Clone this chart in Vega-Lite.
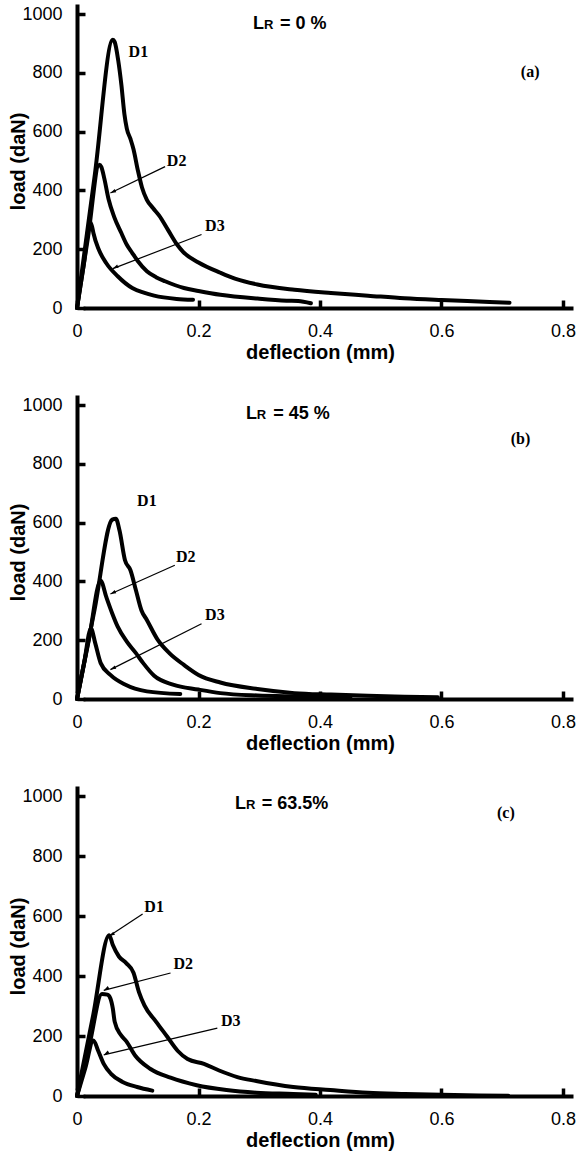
{
 "$schema": "https://vega.github.io/schema/vega-lite/v6.json",
 "background": "white",
 "padding": {"left": 8, "top": 5, "right": 5, "bottom": 5},
 "spacing": 97,
 "bounds": "flush",
 "config": {
  "view": {"stroke": null},
  "axis": {"domain": false, "grid": true, "gridColor": "black", "gridWidth": 4, "gridCap": "square", "ticks": true, "tickColor": "black", "tickWidth": 3.5, "tickSize": 8, "offset": -8,
   "labelFont": "Liberation Sans", "labelFontSize": 18, "labelColor": "black", "labelFlush": false, "labelOverlap": false, "labelBound": false,
   "titleFont": "Liberation Sans", "titleFontSize": 20, "titleFontWeight": "bold", "titleColor": "black"},
  "axisX": {"labelPadding": 14, "titlePadding": 2},
  "axisY": {"labelPadding": 15, "titleX": -67, "titleBaseline": "middle"}
 },
 "datasets": {
  "curves": [
   {"panel":"a","curve":"D1","x":0,"y":0},{"panel":"a","curve":"D1","x":0.0295,"y":456},{"panel":"a","curve":"D1","x":0.059,"y":912},{"panel":"a","curve":"D1","x":0.062,"y":905},{"panel":"a","curve":"D1","x":0.068,"y":840},{"panel":"a","curve":"D1","x":0.073,"y":760},{"panel":"a","curve":"D1","x":0.078,"y":660},{"panel":"a","curve":"D1","x":0.082,"y":610},{"panel":"a","curve":"D1","x":0.088,"y":575},{"panel":"a","curve":"D1","x":0.093,"y":540},{"panel":"a","curve":"D1","x":0.1,"y":470},{"panel":"a","curve":"D1","x":0.107,"y":410},{"panel":"a","curve":"D1","x":0.115,"y":368},{"panel":"a","curve":"D1","x":0.125,"y":340},{"panel":"a","curve":"D1","x":0.135,"y":315},{"panel":"a","curve":"D1","x":0.15,"y":265},{"panel":"a","curve":"D1","x":0.165,"y":215},{"panel":"a","curve":"D1","x":0.175,"y":190},{"panel":"a","curve":"D1","x":0.2,"y":155},{"panel":"a","curve":"D1","x":0.236,"y":120},{"panel":"a","curve":"D1","x":0.26,"y":100},{"panel":"a","curve":"D1","x":0.297,"y":80},{"panel":"a","curve":"D1","x":0.358,"y":62},{"panel":"a","curve":"D1","x":0.418,"y":51},{"panel":"a","curve":"D1","x":0.479,"y":42},{"panel":"a","curve":"D1","x":0.539,"y":33},{"panel":"a","curve":"D1","x":0.6,"y":27},{"panel":"a","curve":"D1","x":0.661,"y":22},{"panel":"a","curve":"D1","x":0.712,"y":18},
   {"panel":"a","curve":"D2","x":0,"y":0},{"panel":"a","curve":"D2","x":0.018,"y":239},{"panel":"a","curve":"D2","x":0.0367,"y":487},{"panel":"a","curve":"D2","x":0.04,"y":480},{"panel":"a","curve":"D2","x":0.045,"y":440},{"panel":"a","curve":"D2","x":0.052,"y":370},{"panel":"a","curve":"D2","x":0.061,"y":311},{"panel":"a","curve":"D2","x":0.073,"y":255},{"panel":"a","curve":"D2","x":0.082,"y":215},{"panel":"a","curve":"D2","x":0.091,"y":187},{"panel":"a","curve":"D2","x":0.1,"y":160},{"panel":"a","curve":"D2","x":0.115,"y":125},{"panel":"a","curve":"D2","x":0.13,"y":105},{"panel":"a","curve":"D2","x":0.145,"y":91},{"panel":"a","curve":"D2","x":0.176,"y":68},{"panel":"a","curve":"D2","x":0.2,"y":58},{"panel":"a","curve":"D2","x":0.236,"y":45},{"panel":"a","curve":"D2","x":0.297,"y":32},{"panel":"a","curve":"D2","x":0.345,"y":25},{"panel":"a","curve":"D2","x":0.364,"y":24},{"panel":"a","curve":"D2","x":0.385,"y":16},
   {"panel":"a","curve":"D3","x":0,"y":0},{"panel":"a","curve":"D3","x":0.011,"y":146},{"panel":"a","curve":"D3","x":0.022,"y":292},{"panel":"a","curve":"D3","x":0.025,"y":275},{"panel":"a","curve":"D3","x":0.027,"y":255},{"panel":"a","curve":"D3","x":0.036,"y":198},{"panel":"a","curve":"D3","x":0.048,"y":153},{"panel":"a","curve":"D3","x":0.067,"y":108},{"panel":"a","curve":"D3","x":0.091,"y":68},{"panel":"a","curve":"D3","x":0.11,"y":52},{"panel":"a","curve":"D3","x":0.127,"y":42},{"panel":"a","curve":"D3","x":0.164,"y":31},{"panel":"a","curve":"D3","x":0.191,"y":28},
   {"panel":"b","curve":"D1","x":0,"y":0},{"panel":"b","curve":"D1","x":0.029,"y":305},{"panel":"b","curve":"D1","x":0.058,"y":610},{"panel":"b","curve":"D1","x":0.064,"y":613},{"panel":"b","curve":"D1","x":0.07,"y":573},{"panel":"b","curve":"D1","x":0.079,"y":472},{"panel":"b","curve":"D1","x":0.088,"y":438},{"panel":"b","curve":"D1","x":0.097,"y":370},{"panel":"b","curve":"D1","x":0.106,"y":302},{"panel":"b","curve":"D1","x":0.115,"y":269},{"panel":"b","curve":"D1","x":0.133,"y":201},{"panel":"b","curve":"D1","x":0.152,"y":156},{"panel":"b","curve":"D1","x":0.176,"y":116},{"panel":"b","curve":"D1","x":0.2,"y":82},{"panel":"b","curve":"D1","x":0.236,"y":56},{"panel":"b","curve":"D1","x":0.297,"y":34},{"panel":"b","curve":"D1","x":0.358,"y":20},{"panel":"b","curve":"D1","x":0.418,"y":15},{"panel":"b","curve":"D1","x":0.479,"y":11},{"panel":"b","curve":"D1","x":0.539,"y":8},{"panel":"b","curve":"D1","x":0.594,"y":6},
   {"panel":"b","curve":"D2","x":0,"y":0},{"panel":"b","curve":"D2","x":0.0195,"y":201},{"panel":"b","curve":"D2","x":0.039,"y":402},{"panel":"b","curve":"D2","x":0.048,"y":348},{"panel":"b","curve":"D2","x":0.058,"y":291},{"panel":"b","curve":"D2","x":0.067,"y":246},{"panel":"b","curve":"D2","x":0.082,"y":195},{"panel":"b","curve":"D2","x":0.097,"y":156},{"panel":"b","curve":"D2","x":0.109,"y":122},{"panel":"b","curve":"D2","x":0.127,"y":79},{"panel":"b","curve":"D2","x":0.158,"y":49},{"panel":"b","curve":"D2","x":0.2,"y":32},{"panel":"b","curve":"D2","x":0.236,"y":20},{"panel":"b","curve":"D2","x":0.297,"y":12},{"panel":"b","curve":"D2","x":0.358,"y":9},{"panel":"b","curve":"D2","x":0.45,"y":6},
   {"panel":"b","curve":"D3","x":0,"y":0},{"panel":"b","curve":"D3","x":0.0115,"y":120},{"panel":"b","curve":"D3","x":0.023,"y":240},{"panel":"b","curve":"D3","x":0.03,"y":190},{"panel":"b","curve":"D3","x":0.039,"y":122},{"panel":"b","curve":"D3","x":0.055,"y":82},{"panel":"b","curve":"D3","x":0.079,"y":49},{"panel":"b","curve":"D3","x":0.115,"y":26},{"panel":"b","curve":"D3","x":0.17,"y":17},
   {"panel":"c","curve":"D1","x":0,"y":0},{"panel":"c","curve":"D1","x":0.0265,"y":268},{"panel":"c","curve":"D1","x":0.053,"y":536},{"panel":"c","curve":"D1","x":0.059,"y":503},{"panel":"c","curve":"D1","x":0.069,"y":465},{"panel":"c","curve":"D1","x":0.081,"y":443},{"panel":"c","curve":"D1","x":0.093,"y":411},{"panel":"c","curve":"D1","x":0.102,"y":346},{"panel":"c","curve":"D1","x":0.111,"y":302},{"panel":"c","curve":"D1","x":0.13,"y":248},{"panel":"c","curve":"D1","x":0.148,"y":199},{"panel":"c","curve":"D1","x":0.166,"y":150},{"panel":"c","curve":"D1","x":0.182,"y":123},{"panel":"c","curve":"D1","x":0.209,"y":107},{"panel":"c","curve":"D1","x":0.234,"y":85},{"panel":"c","curve":"D1","x":0.264,"y":63},{"panel":"c","curve":"D1","x":0.295,"y":50},{"panel":"c","curve":"D1","x":0.356,"y":30},{"panel":"c","curve":"D1","x":0.417,"y":20},{"panel":"c","curve":"D1","x":0.479,"y":11},{"panel":"c","curve":"D1","x":0.54,"y":7},{"panel":"c","curve":"D1","x":0.6,"y":4},{"panel":"c","curve":"D1","x":0.662,"y":2},{"panel":"c","curve":"D1","x":0.71,"y":1},
   {"panel":"c","curve":"D2","x":0,"y":0},{"panel":"c","curve":"D2","x":0.0205,"y":170},{"panel":"c","curve":"D2","x":0.041,"y":340},{"panel":"c","curve":"D2","x":0.05,"y":338},{"panel":"c","curve":"D2","x":0.055,"y":325},{"panel":"c","curve":"D2","x":0.059,"y":291},{"panel":"c","curve":"D2","x":0.062,"y":248},{"panel":"c","curve":"D2","x":0.072,"y":204},{"panel":"c","curve":"D2","x":0.081,"y":183},{"panel":"c","curve":"D2","x":0.096,"y":134},{"panel":"c","curve":"D2","x":0.121,"y":90},{"panel":"c","curve":"D2","x":0.154,"y":61},{"panel":"c","curve":"D2","x":0.197,"y":36},{"panel":"c","curve":"D2","x":0.246,"y":20},{"panel":"c","curve":"D2","x":0.295,"y":11},{"panel":"c","curve":"D2","x":0.356,"y":7},{"panel":"c","curve":"D2","x":0.393,"y":4},
   {"panel":"c","curve":"D3","x":0,"y":0},{"panel":"c","curve":"D3","x":0.0135,"y":92},{"panel":"c","curve":"D3","x":0.027,"y":185},{"panel":"c","curve":"D3","x":0.035,"y":150},{"panel":"c","curve":"D3","x":0.044,"y":107},{"panel":"c","curve":"D3","x":0.056,"y":74},{"panel":"c","curve":"D3","x":0.075,"y":47},{"panel":"c","curve":"D3","x":0.099,"y":30},{"panel":"c","curve":"D3","x":0.124,"y":18}
  ],
  "leaders": [
   {"panel":"a","x":0.145,"y":481,"x2":0.055,"y2":391},
   {"panel":"a","x":0.205,"y":250,"x2":0.059,"y2":134},
   {"panel":"b","x":0.161,"y":455,"x2":0.055,"y2":357},
   {"panel":"b","x":0.205,"y":256,"x2":0.055,"y2":100},
   {"panel":"c","x":0.108,"y":607,"x2":0.053,"y2":533},
   {"panel":"c","x":0.154,"y":410,"x2":0.044,"y2":352},
   {"panel":"c","x":0.231,"y":226,"x2":0.044,"y2":137}
  ],
  "labels": [
   {"panel":"a","kind":"D","text":"D1","x":0.101,"y":870},
   {"panel":"a","kind":"D","text":"D2","x":0.164,"y":500},
   {"panel":"a","kind":"D","text":"D3","x":0.227,"y":278},
   {"panel":"a","kind":"tag","text":"(a)","x":0.746,"y":802},
   {"panel":"a","kind":"L","text":"L","x":0.2897,"y":950},
   {"panel":"a","kind":"R","text":"R","x":0.3078,"y":950},
   {"panel":"a","kind":"L","text":"= 0 %","x":0.334,"y":950},
   {"panel":"b","kind":"D","text":"D1","x":0.115,"y":675},
   {"panel":"b","kind":"D","text":"D2","x":0.179,"y":483},
   {"panel":"b","kind":"D","text":"D3","x":0.227,"y":285},
   {"panel":"b","kind":"tag","text":"(b)","x":0.73,"y":885},
   {"panel":"b","kind":"L","text":"L","x":0.278,"y":951},
   {"panel":"b","kind":"R","text":"R","x":0.296,"y":951},
   {"panel":"b","kind":"L","text":"= 45 %","x":0.323,"y":951},
   {"panel":"c","kind":"D","text":"D1","x":0.127,"y":630},
   {"panel":"c","kind":"D","text":"D2","x":0.175,"y":440},
   {"panel":"c","kind":"D","text":"D3","x":0.253,"y":250},
   {"panel":"c","kind":"tag","text":"(c)","x":0.706,"y":945},
   {"panel":"c","kind":"L","text":"L","x":0.26,"y":958},
   {"panel":"c","kind":"R","text":"R","x":0.278,"y":958},
   {"panel":"c","kind":"L","text":"= 63.5%","x":0.304,"y":958}
  ]
 },
 "vconcat": [
  {
   "width": 486, "height": 294,
   "encoding": {
    "x": {"field": "x", "type": "quantitative", "scale": {"domain": [0, 0.8], "nice": false}, "axis": {"values": [0, 0.2, 0.4, 0.6, 0.8], "format": "~g", "title": "deflection (mm)", "gridOpacity": {"condition": {"test": "datum.value === 0", "value": 1}, "value": 0}}},
    "y": {"field": "y", "type": "quantitative", "scale": {"domain": [0, 1000], "nice": false}, "axis": {"values": [0, 200, 400, 600, 800, 1000], "format": "d", "title": "load (daN)", "gridOpacity": {"condition": {"test": "datum.value === 0", "value": 1}, "value": 0}}}
   },
   "layer": [
    {"data": {"name": "curves"}, "transform": [{"filter": "datum.panel==='a'"}], "mark": {"type": "line", "color": "black", "strokeWidth": 4, "interpolate": "monotone", "strokeJoin": "round", "strokeCap": "round"}, "encoding": {"detail": {"field": "curve"}}},
    {"data": {"name": "leaders"}, "transform": [{"filter": "datum.panel==='a'"}], "mark": {"type": "rule", "color": "black", "strokeWidth": 1.2}, "encoding": {"x2": {"field": "x2"}, "y2": {"field": "y2"}}},
    {"data": {"name": "leaders"}, "transform": [{"filter": "datum.panel==='a'"}], "mark": {"type": "point", "shape": "M0,0L0.5,1.6L-0.5,1.6Z", "size": 50, "angle": 244, "filled": true, "color": "black", "opacity": 1}, "encoding": {"x": {"field": "x2", "type": "quantitative"}, "y": {"field": "y2", "type": "quantitative"}}},
    {"data": {"name": "labels"}, "transform": [{"filter": "datum.panel==='a' && (datum.kind==='D' || datum.kind==='tag')"}], "mark": {"type": "text", "font": "Liberation Serif", "fontWeight": "bold", "fontSize": 16, "align": "center", "baseline": "middle", "color": "black"}, "encoding": {"text": {"field": "text"}}},
    {"data": {"name": "labels"}, "transform": [{"filter": "datum.panel==='a' && datum.kind==='L'"}], "mark": {"type": "text", "font": "Liberation Sans", "fontWeight": "bold", "fontSize": 18, "align": "left", "baseline": "alphabetic", "color": "black"}, "encoding": {"text": {"field": "text"}}},
    {"data": {"name": "labels"}, "transform": [{"filter": "datum.panel==='a' && datum.kind==='R'"}], "mark": {"type": "text", "font": "Liberation Sans", "fontWeight": "bold", "fontSize": 13, "align": "left", "baseline": "alphabetic", "color": "black"}, "encoding": {"text": {"field": "text"}}}
   ]
  },
  {
   "width": 486, "height": 294,
   "encoding": {
    "x": {"field": "x", "type": "quantitative", "scale": {"domain": [0, 0.8], "nice": false}, "axis": {"values": [0, 0.2, 0.4, 0.6, 0.8], "format": "~g", "title": "deflection (mm)", "gridOpacity": {"condition": {"test": "datum.value === 0", "value": 1}, "value": 0}}},
    "y": {"field": "y", "type": "quantitative", "scale": {"domain": [0, 1000], "nice": false}, "axis": {"values": [0, 200, 400, 600, 800, 1000], "format": "d", "title": "load (daN)", "gridOpacity": {"condition": {"test": "datum.value === 0", "value": 1}, "value": 0}}}
   },
   "layer": [
    {"data": {"name": "curves"}, "transform": [{"filter": "datum.panel==='b'"}], "mark": {"type": "line", "color": "black", "strokeWidth": 4, "interpolate": "monotone", "strokeJoin": "round", "strokeCap": "round"}, "encoding": {"detail": {"field": "curve"}}},
    {"data": {"name": "leaders"}, "transform": [{"filter": "datum.panel==='b'"}], "mark": {"type": "rule", "color": "black", "strokeWidth": 1.2}, "encoding": {"x2": {"field": "x2"}, "y2": {"field": "y2"}}},
    {"data": {"name": "leaders"}, "transform": [{"filter": "datum.panel==='b'"}], "mark": {"type": "point", "shape": "M0,0L0.5,1.6L-0.5,1.6Z", "size": 50, "angle": 244, "filled": true, "color": "black", "opacity": 1}, "encoding": {"x": {"field": "x2", "type": "quantitative"}, "y": {"field": "y2", "type": "quantitative"}}},
    {"data": {"name": "labels"}, "transform": [{"filter": "datum.panel==='b' && (datum.kind==='D' || datum.kind==='tag')"}], "mark": {"type": "text", "font": "Liberation Serif", "fontWeight": "bold", "fontSize": 16, "align": "center", "baseline": "middle", "color": "black"}, "encoding": {"text": {"field": "text"}}},
    {"data": {"name": "labels"}, "transform": [{"filter": "datum.panel==='b' && datum.kind==='L'"}], "mark": {"type": "text", "font": "Liberation Sans", "fontWeight": "bold", "fontSize": 18, "align": "left", "baseline": "alphabetic", "color": "black"}, "encoding": {"text": {"field": "text"}}},
    {"data": {"name": "labels"}, "transform": [{"filter": "datum.panel==='b' && datum.kind==='R'"}], "mark": {"type": "text", "font": "Liberation Sans", "fontWeight": "bold", "fontSize": 13, "align": "left", "baseline": "alphabetic", "color": "black"}, "encoding": {"text": {"field": "text"}}}
   ]
  },
  {
   "width": 486, "height": 300,
   "encoding": {
    "x": {"field": "x", "type": "quantitative", "scale": {"domain": [0, 0.8], "nice": false}, "axis": {"values": [0, 0.2, 0.4, 0.6, 0.8], "format": "~g", "title": "deflection (mm)", "gridOpacity": {"condition": {"test": "datum.value === 0", "value": 1}, "value": 0}}},
    "y": {"field": "y", "type": "quantitative", "scale": {"domain": [0, 1000], "nice": false}, "axis": {"values": [0, 200, 400, 600, 800, 1000], "format": "d", "title": "load (daN)", "gridOpacity": {"condition": {"test": "datum.value === 0", "value": 1}, "value": 0}}}
   },
   "layer": [
    {"data": {"name": "curves"}, "transform": [{"filter": "datum.panel==='c'"}], "mark": {"type": "line", "color": "black", "strokeWidth": 4, "interpolate": "monotone", "strokeJoin": "round", "strokeCap": "round"}, "encoding": {"detail": {"field": "curve"}}},
    {"data": {"name": "leaders"}, "transform": [{"filter": "datum.panel==='c'"}], "mark": {"type": "rule", "color": "black", "strokeWidth": 1.2}, "encoding": {"x2": {"field": "x2"}, "y2": {"field": "y2"}}},
    {"data": {"name": "leaders"}, "transform": [{"filter": "datum.panel==='c'"}], "mark": {"type": "point", "shape": "M0,0L0.5,1.6L-0.5,1.6Z", "size": 50, "angle": 240, "filled": true, "color": "black", "opacity": 1}, "encoding": {"x": {"field": "x2", "type": "quantitative"}, "y": {"field": "y2", "type": "quantitative"}}},
    {"data": {"name": "labels"}, "transform": [{"filter": "datum.panel==='c' && (datum.kind==='D' || datum.kind==='tag')"}], "mark": {"type": "text", "font": "Liberation Serif", "fontWeight": "bold", "fontSize": 16, "align": "center", "baseline": "middle", "color": "black"}, "encoding": {"text": {"field": "text"}}},
    {"data": {"name": "labels"}, "transform": [{"filter": "datum.panel==='c' && datum.kind==='L'"}], "mark": {"type": "text", "font": "Liberation Sans", "fontWeight": "bold", "fontSize": 18, "align": "left", "baseline": "alphabetic", "color": "black"}, "encoding": {"text": {"field": "text"}}},
    {"data": {"name": "labels"}, "transform": [{"filter": "datum.panel==='c' && datum.kind==='R'"}], "mark": {"type": "text", "font": "Liberation Sans", "fontWeight": "bold", "fontSize": 13, "align": "left", "baseline": "alphabetic", "color": "black"}, "encoding": {"text": {"field": "text"}}}
   ]
  }
 ]
}
